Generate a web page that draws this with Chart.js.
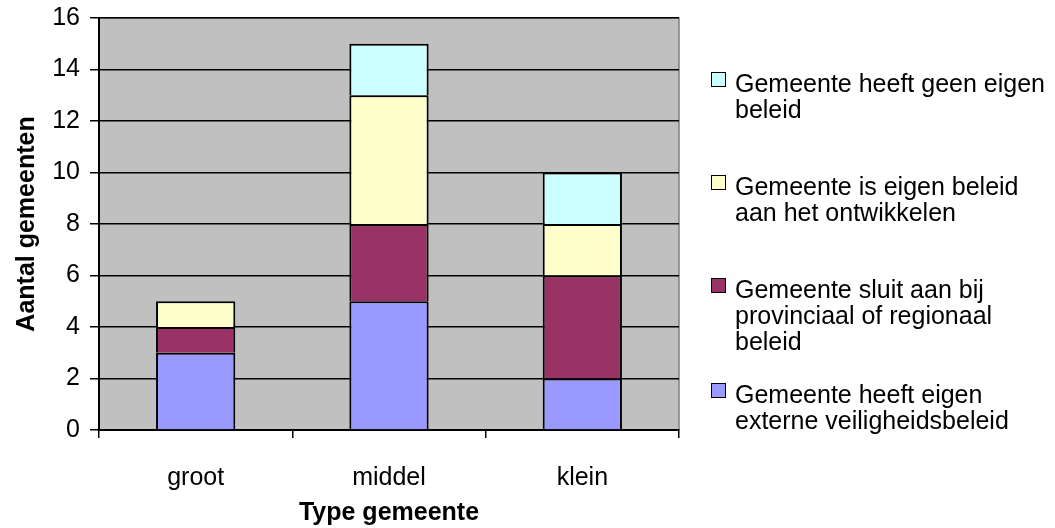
<!DOCTYPE html>
<html lang="nl">
<head>
    <meta charset="UTF-8">
    <title>Type gemeente</title>
    <style>
        body {
            margin: 0;
            background: #ffffff;
            font-family: "Liberation Sans", Arial, sans-serif;
        }

        .wrap {
            position: relative;
            width: 1055px;
            height: 528px;
        }

        .legend-item {
            position: absolute;
            left: 735px;
            width: 320px;
            font-size: 25px;
            line-height: 26px;
            color: #000;
        }

        .legend-box {
            position: absolute;
            left: -24px;
            top: 2px;
            width: 13px;
            height: 13px;
            border: 1px solid #000;
        }
    </style>
    <script src="https://cdn.jsdelivr.net/npm/chart.js"></script>
</head>
<body>

<div class="wrap">
    <canvas id="chart" width="1055" height="528"></canvas>
</div>

<script>
    // data
    const categories = ['groot', 'middel', 'klein'];
    const seriesNames = [
        'Gemeente heeft eigen externe veiligheidsbeleid',
        'Gemeente sluit aan bij provinciaal of regionaal beleid',
        'Gemeente is eigen beleid aan het ontwikkelen',
        'Gemeente heeft geen eigen beleid'
    ];
    const eigenBeleid = [3, 5, 2];
    const sluitAan = [1, 3, 4];
    const ontwikkelen = [1, 5, 2];
    const geenBeleid = [0, 2, 2];
    const colors = ['#9999FF', '#993366', '#FFFFCC', '#CCFFFF'];

    // legend lines as they wrap in the picture (top item first)
    const legendLines = [
        ['Gemeente heeft geen eigen', 'beleid'],
        ['Gemeente is eigen beleid', 'aan het ontwikkelen'],
        ['Gemeente sluit aan bij', 'provinciaal of regionaal', 'beleid'],
        ['Gemeente heeft eigen', 'externe veiligheidsbeleid']
    ];
    const legendTops = [70, 173, 276, 381];

    const values = [eigenBeleid, sluitAan, ontwikkelen, geenBeleid];

    // grijze achtergrond van het plotgebied
    const plotBg = {
        id: 'plotBg',
        beforeDraw(chart) {
            const {ctx, chartArea: a} = chart;
            ctx.save();
            ctx.fillStyle = '#C0C0C0';
            ctx.fillRect(a.left, a.top, a.right - a.left, a.bottom - a.top);
            ctx.strokeStyle = '#808080';
            ctx.lineWidth = 1.5;
            ctx.strokeRect(a.left, a.top, a.right - a.left, a.bottom - a.top);
            ctx.restore();
        }
    };

    const font = {family: '"Liberation Sans", Arial, sans-serif', size: 25};
    const titleFont = {family: '"Liberation Sans", Arial, sans-serif', size: 25, weight: 'bold'};

    const chart = new Chart(document.getElementById('chart'), {
        type: 'bar',
        data: {
            labels: categories,
            datasets: values.map((v, i) => ({
                label: seriesNames[i],
                data: v,
                backgroundColor: colors[i],
                borderColor: '#000000',
                borderWidth: 2,
                borderSkipped: 'start',
                categoryPercentage: 1,
                barPercentage: 0.41
            }))
        },
        options: {
            responsive: false,
            animation: false,
            layout: {padding: {left: 8, right: 376, top: 18, bottom: 0}},
            plugins: {legend: {display: false}, tooltip: {enabled: false}},
            scales: {
                x: {
                    stacked: true,
                    afterFit: (s) => { s.height = 98; s.paddingLeft = 0; s.paddingRight = 0; },
                    grid: {
                        offset: true,
                        drawOnChartArea: false,
                        color: '#000000',
                        lineWidth: 1.5,
                        tickLength: 8
                    },
                    border: {color: '#000000', width: 2},
                    ticks: {color: '#000', font: font, padding: 25},
                    title: {
                        display: true,
                        text: 'Type gemeente',
                        color: '#000',
                        font: titleFont,
                        padding: {top: 0, bottom: 0}
                    }
                },
                y: {
                    stacked: true,
                    min: 0,
                    max: 16,
                    afterFit: (s) => { s.width = 91; s.paddingTop = 0; s.paddingBottom = 0; },
                    grid: {color: '#000000', tickLength: 9, lineWidth: 1.5},
                    border: {color: '#000000', width: 2},
                    ticks: {stepSize: 2, color: '#000', font: font, padding: 10},
                    title: {
                        display: true,
                        text: 'Aantal gemeenten',
                        color: '#000',
                        font: titleFont,
                        padding: {top: 4, bottom: 0}
                    }
                }
            }
        },
        plugins: [plotBg]
    });

    // legend (HTML), volgorde zoals in het origineel: bovenste serie eerst
    const wrap = document.querySelector('.wrap');
    legendLines.forEach((lines, k) => {
        const idx = values.length - 1 - k;
        const item = document.createElement('div');
        item.className = 'legend-item';
        item.style.top = legendTops[k] + 'px';
        item.innerHTML = lines.join('<br>');
        const box = document.createElement('span');
        box.className = 'legend-box';
        box.style.background = colors[idx];
        item.appendChild(box);
        wrap.appendChild(item);
    });
</script>

</body>
</html>
